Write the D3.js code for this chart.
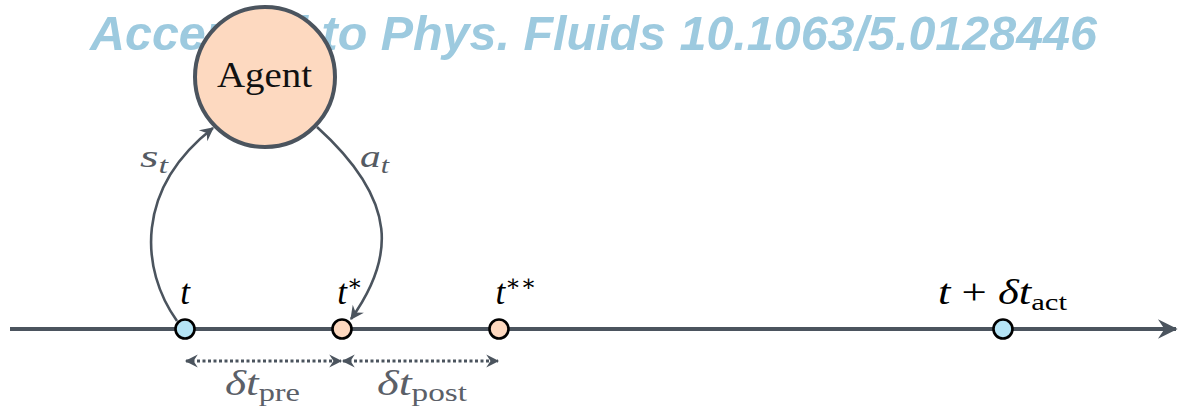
<!DOCTYPE html>
<html>
<head>
<meta charset="utf-8">
<script src="https://cdn.jsdelivr.net/npm/d3@7"></script>
<style>
  body { margin: 0; background: #fff; }
  svg { display: block; }
  .tex { font-family: "Liberation Serif", "DejaVu Serif", serif; }
</style>
</head>
<body>
<svg id="chart"></svg>
<script>
// time points on the axis (in units of the shared spacing)
const nodeNames = ["t", "t*", "t**", "t+dt_act"];
const nodeTimes = [0, 1, 2, 5.21];
const nodeKinds = ["state", "action", "action", "state"];

// intervals drawn under the axis
const spanStarts = [0, 1];
const spanEnds = [1, 2];
const spanLabels = ["pre", "post"];

const watermark = "Accepted to Phys. Fluids 10.1063/5.0128446";

const width = 1187;
const height = 418;
const axisY = 329;

const svg = d3.select("#chart")
    .attr("width", width)
    .attr("height", height);

// time -> pixel
const x = d3.scaleLinear()
    .domain([0, 1])
    .range([185, 342]);

const slate = "#4b545e";
const fills = { state: "#b5e4f5", action: "#fdd8bf" };

// arrow heads
const defs = svg.append("defs");
function head(id, size) {
    defs.append("marker")
        .attr("id", id)
        .attr("viewBox", "-12 -7 14 14")
        .attr("refX", 0).attr("refY", 0)
        .attr("markerWidth", size).attr("markerHeight", size)
        .attr("markerUnits", "userSpaceOnUse")
        .attr("orient", "auto-start-reverse")
        .append("path")
        .attr("d", "M1,0 L-11,-6 L-7,0 L-11,6 Z")
        .attr("fill", slate);
}
head("axis", 23);
head("big", 16);
head("small", 15);

// watermark (behind the agent)
svg.append("text")
    .attr("x", 90).attr("y", 50)
    .attr("textLength", 1007)
    .attr("lengthAdjust", "spacingAndGlyphs")
    .style("font-family", "'Liberation Sans', Arial, sans-serif")
    .style("font-weight", "bold")
    .style("font-style", "italic")
    .style("font-size", "48.5px")
    .attr("fill", "#9dcadf")
    .text(watermark);

// main time axis
svg.append("line")
    .attr("x1", 10).attr("x2", 1176)
    .attr("y1", axisY).attr("y2", axisY)
    .attr("stroke", slate)
    .attr("stroke-width", 4)
    .attr("marker-end", "url(#axis)");

// agent
const agent = { x: 265, y: 77, r: 70 };
svg.append("circle")
    .attr("cx", agent.x).attr("cy", agent.y).attr("r", agent.r)
    .attr("fill", "#fdd9c0")
    .attr("stroke", slate)
    .attr("stroke-width", 4);
svg.append("text")
    .attr("class", "tex")
    .attr("x", 217).attr("y", agent.y + 10)
    .attr("textLength", 95)
    .attr("lengthAdjust", "spacingAndGlyphs")
    .style("font-size", "36px")
    .attr("fill", "#111")
    .text("Agent");

// loops: state up to the agent, action back down to t*
const tx = x(nodeTimes[0]);
const tsx = x(nodeTimes[1]);
svg.append("path")
    .attr("d", `M${tx - 8},${axisY - 8} C${tx - 45},${axisY - 60} ${tx - 50},${axisY - 140} ${agent.x - 52},${agent.y + 51}`)
    .attr("fill", "none")
    .attr("stroke", slate)
    .attr("stroke-width", 2.6)
    .attr("marker-end", "url(#big)");
svg.append("path")
    .attr("d", `M${agent.x + 52},${agent.y + 50} C${tsx + 58},${agent.y + 125} ${tsx + 52},${axisY - 70} ${tsx + 9},${axisY - 10}`)
    .attr("fill", "none")
    .attr("stroke", slate)
    .attr("stroke-width", 2.6)
    .attr("marker-end", "url(#big)");

function sub(sel, main, subText, size) {
    sel.append("tspan").style("font-style", "italic").text(main);
    sel.append("tspan")
        .style("font-style", "italic")
        .style("font-size", (size * 0.72) + "px")
        .attr("dy", size * 0.2)
        .text(subText);
}
const st = svg.append("text").attr("class", "tex")
    .attr("x", 140).attr("y", 167)
    .attr("textLength", 28)
    .attr("lengthAdjust", "spacingAndGlyphs")
    .style("font-size", "32px").attr("fill", "#555b63");
sub(st, "s", "t", 32);
const at = svg.append("text").attr("class", "tex")
    .attr("x", 360).attr("y", 167)
    .attr("textLength", 29)
    .attr("lengthAdjust", "spacingAndGlyphs")
    .style("font-size", "32px").attr("fill", "#555b63");
sub(at, "a", "t", 32);

// nodes
svg.selectAll("circle.node")
    .data(nodeTimes)
    .enter().append("circle")
    .attr("class", "node")
    .attr("cx", d => x(d))
    .attr("cy", axisY)
    .attr("r", 9.5)
    .attr("fill", (d, i) => fills[nodeKinds[i]])
    .attr("stroke", "#000")
    .attr("stroke-width", 2.6);

// node labels
const lab = svg.selectAll("text.node")
    .data(nodeTimes)
    .enter().append("text")
    .attr("class", "tex node")
    .attr("x", d => x(d))
    .attr("y", 304)
    .attr("text-anchor", "middle")
    .style("font-size", "35px")
    .attr("fill", "#000");
lab.each(function(d, i) {
    const el = d3.select(this);
    const name = nodeNames[i];
    if (name === "t") {
        el.append("tspan").style("font-style", "italic").text("t");
    } else if (name.startsWith("t*")) {
        el.attr("x", x(d) + (name === "t*" ? 8 : 17));
        el.append("tspan").style("font-style", "italic").text("t");
        el.append("tspan").style("font-size", "23px").attr("dy", -13)
            .text(name.slice(1).replace(/\*/g, "\u2217"));
    } else {
        el.attr("text-anchor", "start")
            .attr("x", 938)
            .attr("textLength", 129)
            .attr("lengthAdjust", "spacingAndGlyphs");
        el.append("tspan").style("font-style", "italic").text("t");
        el.append("tspan").text(" + ");
        el.append("tspan").style("font-style", "italic").text("\u03b4t");
        el.append("tspan").style("font-size", "24px").attr("dy", 6).text("act");
    }
});

// dotted interval arrows
svg.selectAll("line.span")
    .data(spanStarts)
    .enter().append("line")
    .attr("class", "span")
    .attr("x1", d => x(d) + 1)
    .attr("x2", (d, i) => x(spanEnds[i]) - 1)
    .attr("y1", 361).attr("y2", 361)
    .attr("stroke", slate)
    .attr("stroke-width", 3)
    .attr("stroke-dasharray", "3,2.5")
    .attr("marker-start", "url(#small)")
    .attr("marker-end", "url(#small)");

const sl = svg.selectAll("text.span")
    .data(spanStarts)
    .enter().append("text")
    .attr("class", "tex span")
    .attr("x", (d, i) => i === 0 ? 225 : 377)
    .attr("y", 395)
    .attr("textLength", (d, i) => i === 0 ? 75 : 90)
    .attr("lengthAdjust", "spacingAndGlyphs")
    .style("font-size", "35px")
    .attr("fill", "#5b6068");
sl.each(function(d, i) {
    const el = d3.select(this);
    el.append("tspan").style("font-style", "italic").text("\u03b4t");
    el.append("tspan").style("font-size", "25px").attr("dy", 6).text(spanLabels[i]);
});
</script>
</body>
</html>
